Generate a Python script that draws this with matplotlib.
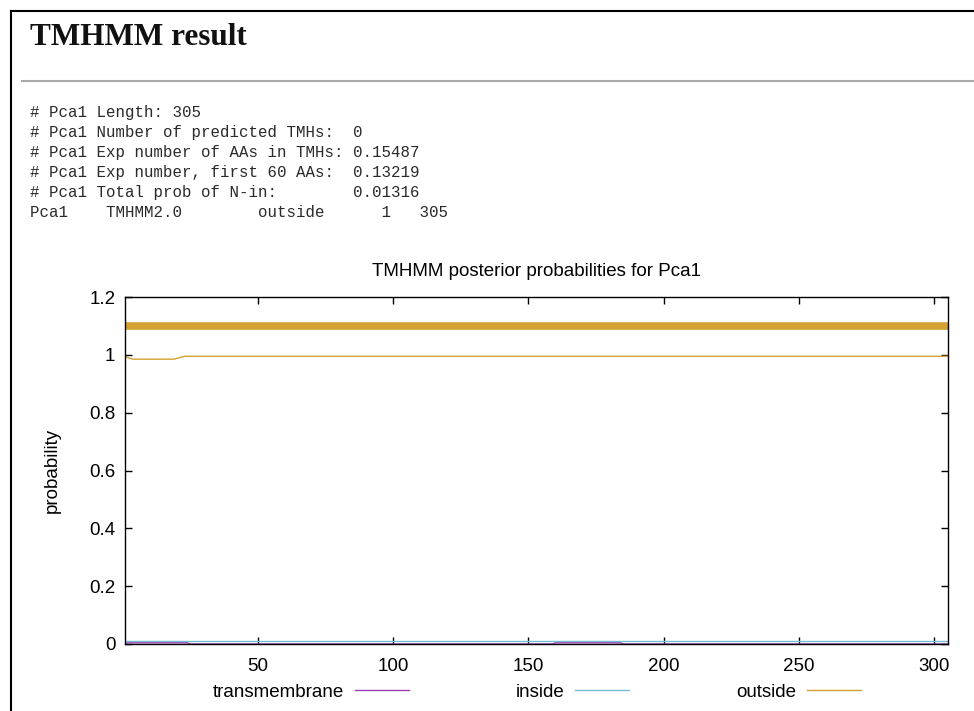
import numpy as np
import matplotlib.pyplot as plt
from matplotlib.lines import Line2D

# Datos del resultado TMHMM
seq_name = 'Pca1'
seq_len = 305

header_lines = [
    '# Pca1 Length: 305',
    '# Pca1 Number of predicted TMHs:  0',
    '# Pca1 Exp number of AAs in TMHs: 0.15487',
    '# Pca1 Exp number, first 60 AAs:  0.13219',
    '# Pca1 Total prob of N-in:        0.01316',
    'Pca1    TMHMM2.0        outside      1   305',
]

# Region predicha (outside de 1 a 305)
region_start = 1
region_end = 305
region_level = 1.1

# Probabilidades posteriores
out_pos = [1, 2, 4, 19, 21, 23, 305]
out_prob = [0.995, 0.99, 0.985, 0.985, 0.99, 0.995, 0.995]

in_pos = [1, 305]
in_prob = [0.010, 0.010]

tm_pos = [1, 2, 24, 25, 159, 160, 184, 185, 305]
tm_prob = [0.0, 0.004, 0.004, 0.0, 0.0, 0.004, 0.004, 0.0, 0.0]

xticks = [50, 100, 150, 200, 250, 300]
yticks = [0, 0.2, 0.4, 0.6, 0.8, 1.0, 1.2]
ytick_labels = ['0', '0.2', '0.4', '0.6', '0.8', '1', '1.2']

c_tm = '#9a3fb5'
c_in = '#74c0d2'
c_out = '#d4a032'

W, H = 974, 711
fig = plt.figure(figsize=(W / 100, H / 100), dpi=100)

def fx(px):
    return px / W

def fy(py):
    return 1 - py / H

# Marco de la captura
fig.add_artist(Line2D([fx(11), fx(11)], [0, fy(11)], color='black', lw=1.5))
fig.add_artist(Line2D([fx(11), 1], [fy(11), fy(11)], color='black', lw=1.5))
fig.add_artist(Line2D([fx(22), 1], [fy(81), fy(81)], color='#a8a8a8', lw=1.5))

fig.text(fx(30), fy(45), 'TMHMM result', family='Liberation Serif',
         weight='bold', fontsize=22.5, va='baseline', ha='left', color='#111111')

for i, line in enumerate(header_lines):
    fig.text(fx(30), fy(112 + 20 * i), line, family='Liberation Mono',
             fontsize=11.3, va='center', ha='left', color='#2a2a2a')

# Grafico
fs = 13.5
ax = fig.add_axes([fx(125), fy(644), fx(948) - fx(125), fy(297) - fy(644)])
ax.plot([region_start, region_end], [region_level, region_level],
        color=c_out, lw=5.5, solid_capstyle='butt')
l_out, = ax.plot(out_pos, out_prob, color=c_out, lw=1.0, label='outside')
l_in, = ax.plot(in_pos, in_prob, color=c_in, lw=1.0, label='inside')
l_tm, = ax.plot(tm_pos, tm_prob, color=c_tm, lw=1.0, label='transmembrane')

ax.set_xlim(1, seq_len)
ax.set_ylim(0, 1.2)
ax.set_xticks(xticks)
ax.set_yticks(yticks)
ax.set_yticklabels(ytick_labels)
ax.tick_params(direction='in', top=True, right=True, length=5, width=1,
               labelsize=fs)
ax.tick_params(axis='x', pad=10)
ax.tick_params(axis='y', pad=7)
for s in ax.spines.values():
    s.set_linewidth(1.0)
for lab in ax.get_xticklabels() + ax.get_yticklabels():
    lab.set_family('Liberation Sans')

ax.set_title('TMHMM posterior probabilities for ' + seq_name,
             family='Liberation Sans', fontsize=fs, pad=15)
ax.set_ylabel('probability', family='Liberation Sans', fontsize=fs,
              labelpad=20)

fig.legend(handles=[l_tm, l_in, l_out], loc='center',
           bbox_to_anchor=(fx(537), fy(692)), ncol=3, frameon=False,
           markerfirst=False, handlelength=2.9, handletextpad=0.55,
           columnspacing=5.7, prop={'family': 'Liberation Sans', 'size': fs})

fig.savefig('out.png', dpi=100)
